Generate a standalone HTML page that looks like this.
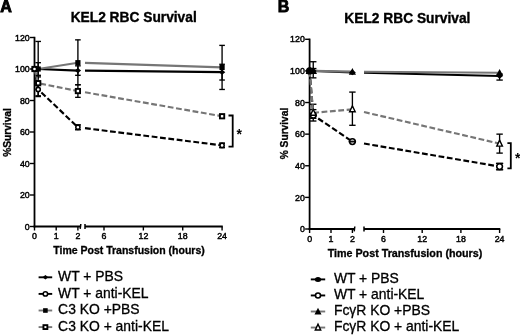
<!DOCTYPE html>
<html><head><meta charset="utf-8"><title>KEL2 RBC Survival</title>
<style>html,body{margin:0;padding:0;background:#fff}svg{display:block}</style></head>
<body>
<svg width="520" height="336" viewBox="0 0 520 336" font-family="'Liberation Sans', sans-serif" fill="#000">
<rect width="520" height="336" fill="#fff"/>
<text x="0.3" y="11.6" font-size="16" font-weight="bold" text-anchor="start" stroke="#000" stroke-width="0.9">A</text>
<text x="133.7" y="22.3" font-size="13.75" font-weight="bold" text-anchor="middle" stroke="#000" stroke-width="0.35">KEL2 RBC Survival</text>
<text transform="translate(10.6,132.5) rotate(-90)" font-size="10.2" font-weight="bold" text-anchor="middle" stroke="#000" stroke-width="0.3">%Survival</text>
<text x="129" y="253.9" font-size="10.5" font-weight="bold" text-anchor="middle" stroke="#000" stroke-width="0.3">Time Post Transfusion (hours)</text>
<line x1="34.50" y1="36.80" x2="34.50" y2="227.40" stroke="#000" stroke-width="1.8"/>
<line x1="30.00" y1="226.50" x2="34.50" y2="226.50" stroke="#000" stroke-width="1.4"/>
<text x="29.7" y="229.6" font-size="8.8" text-anchor="end" stroke="#000" stroke-width="0.45">0</text>
<line x1="30.00" y1="195.00" x2="34.50" y2="195.00" stroke="#000" stroke-width="1.4"/>
<text x="29.7" y="198.1" font-size="8.8" text-anchor="end" stroke="#000" stroke-width="0.45">20</text>
<line x1="30.00" y1="163.50" x2="34.50" y2="163.50" stroke="#000" stroke-width="1.4"/>
<text x="29.7" y="166.6" font-size="8.8" text-anchor="end" stroke="#000" stroke-width="0.45">40</text>
<line x1="30.00" y1="132.00" x2="34.50" y2="132.00" stroke="#000" stroke-width="1.4"/>
<text x="29.7" y="135.1" font-size="8.8" text-anchor="end" stroke="#000" stroke-width="0.45">60</text>
<line x1="30.00" y1="100.50" x2="34.50" y2="100.50" stroke="#000" stroke-width="1.4"/>
<text x="29.7" y="103.6" font-size="8.8" text-anchor="end" stroke="#000" stroke-width="0.45">80</text>
<line x1="30.00" y1="69.00" x2="34.50" y2="69.00" stroke="#000" stroke-width="1.4"/>
<text x="29.7" y="72.1" font-size="8.8" text-anchor="end" stroke="#000" stroke-width="0.45">100</text>
<line x1="30.00" y1="37.50" x2="34.50" y2="37.50" stroke="#000" stroke-width="1.4"/>
<text x="29.7" y="40.6" font-size="8.8" text-anchor="end" stroke="#000" stroke-width="0.45">120</text>
<line x1="33.60" y1="226.50" x2="80.50" y2="226.50" stroke="#000" stroke-width="1.8"/>
<line x1="85.00" y1="226.50" x2="222.78" y2="226.50" stroke="#000" stroke-width="1.8"/>
<line x1="80.20" y1="228.90" x2="80.80" y2="224.00" stroke="#000" stroke-width="1.5"/>
<line x1="85.00" y1="228.90" x2="85.00" y2="224.00" stroke="#000" stroke-width="1.5"/>
<line x1="34.50" y1="226.50" x2="34.50" y2="230.50" stroke="#000" stroke-width="1.4"/>
<text x="34.5" y="239.2" font-size="8.8" text-anchor="middle" stroke="#000" stroke-width="0.45">0</text>
<line x1="56.20" y1="226.50" x2="56.20" y2="230.50" stroke="#000" stroke-width="1.4"/>
<text x="56.2" y="239.2" font-size="8.8" text-anchor="middle" stroke="#000" stroke-width="0.45">1</text>
<line x1="77.90" y1="226.50" x2="77.90" y2="230.50" stroke="#000" stroke-width="1.4"/>
<text x="77.9" y="239.2" font-size="8.8" text-anchor="middle" stroke="#000" stroke-width="0.45">2</text>
<line x1="104.00" y1="226.50" x2="104.00" y2="230.50" stroke="#000" stroke-width="1.4"/>
<text x="104.0" y="239.2" font-size="8.8" text-anchor="middle" stroke="#000" stroke-width="0.45">6</text>
<line x1="143.36" y1="226.50" x2="143.36" y2="230.50" stroke="#000" stroke-width="1.4"/>
<text x="143.4" y="239.2" font-size="8.8" text-anchor="middle" stroke="#000" stroke-width="0.45">12</text>
<line x1="182.72" y1="226.50" x2="182.72" y2="230.50" stroke="#000" stroke-width="1.4"/>
<text x="182.7" y="239.2" font-size="8.8" text-anchor="middle" stroke="#000" stroke-width="0.45">18</text>
<line x1="222.08" y1="226.50" x2="222.08" y2="230.50" stroke="#000" stroke-width="1.4"/>
<text x="222.1" y="239.2" font-size="8.8" text-anchor="middle" stroke="#000" stroke-width="0.45">24</text>
<line x1="38.19" y1="41.44" x2="38.19" y2="96.56" stroke="#000" stroke-width="1.35"/>
<line x1="35.39" y1="41.44" x2="40.99" y2="41.44" stroke="#000" stroke-width="1.35"/>
<line x1="35.39" y1="96.56" x2="40.99" y2="96.56" stroke="#000" stroke-width="1.35"/>
<line x1="77.90" y1="39.86" x2="77.90" y2="84.75" stroke="#000" stroke-width="1.35"/>
<line x1="75.10" y1="39.86" x2="80.70" y2="39.86" stroke="#000" stroke-width="1.35"/>
<line x1="75.10" y1="84.75" x2="80.70" y2="84.75" stroke="#000" stroke-width="1.35"/>
<line x1="222.08" y1="45.38" x2="222.08" y2="89.47" stroke="#000" stroke-width="1.35"/>
<line x1="219.28" y1="45.38" x2="224.88" y2="45.38" stroke="#000" stroke-width="1.35"/>
<line x1="219.28" y1="89.47" x2="224.88" y2="89.47" stroke="#000" stroke-width="1.35"/>
<line x1="38.19" y1="62.70" x2="38.19" y2="75.30" stroke="#000" stroke-width="1.35"/>
<line x1="35.39" y1="62.70" x2="40.99" y2="62.70" stroke="#000" stroke-width="1.35"/>
<line x1="35.39" y1="75.30" x2="40.99" y2="75.30" stroke="#000" stroke-width="1.35"/>
<line x1="77.90" y1="65.85" x2="77.90" y2="75.30" stroke="#000" stroke-width="1.35"/>
<line x1="75.10" y1="65.85" x2="80.70" y2="65.85" stroke="#000" stroke-width="1.35"/>
<line x1="75.10" y1="75.30" x2="80.70" y2="75.30" stroke="#000" stroke-width="1.35"/>
<line x1="222.08" y1="64.28" x2="222.08" y2="80.03" stroke="#000" stroke-width="1.35"/>
<line x1="219.28" y1="64.28" x2="224.88" y2="64.28" stroke="#000" stroke-width="1.35"/>
<line x1="219.28" y1="80.03" x2="224.88" y2="80.03" stroke="#000" stroke-width="1.35"/>
<line x1="38.19" y1="76.88" x2="38.19" y2="89.47" stroke="#000" stroke-width="1.35"/>
<line x1="35.39" y1="76.88" x2="40.99" y2="76.88" stroke="#000" stroke-width="1.35"/>
<line x1="35.39" y1="89.47" x2="40.99" y2="89.47" stroke="#000" stroke-width="1.35"/>
<line x1="77.90" y1="84.75" x2="77.90" y2="97.35" stroke="#000" stroke-width="1.35"/>
<line x1="75.10" y1="84.75" x2="80.70" y2="84.75" stroke="#000" stroke-width="1.35"/>
<line x1="75.10" y1="97.35" x2="80.70" y2="97.35" stroke="#000" stroke-width="1.35"/>
<line x1="222.08" y1="114.67" x2="222.08" y2="117.83" stroke="#000" stroke-width="1.35"/>
<line x1="219.28" y1="114.67" x2="224.88" y2="114.67" stroke="#000" stroke-width="1.35"/>
<line x1="219.28" y1="117.83" x2="224.88" y2="117.83" stroke="#000" stroke-width="1.35"/>
<line x1="38.19" y1="83.18" x2="38.19" y2="95.78" stroke="#000" stroke-width="1.35"/>
<line x1="35.39" y1="83.18" x2="40.99" y2="83.18" stroke="#000" stroke-width="1.35"/>
<line x1="35.39" y1="95.78" x2="40.99" y2="95.78" stroke="#000" stroke-width="1.35"/>
<line x1="77.90" y1="124.91" x2="77.90" y2="129.64" stroke="#000" stroke-width="1.35"/>
<line x1="75.10" y1="124.91" x2="80.70" y2="124.91" stroke="#000" stroke-width="1.35"/>
<line x1="75.10" y1="129.64" x2="80.70" y2="129.64" stroke="#000" stroke-width="1.35"/>
<line x1="222.08" y1="143.18" x2="222.08" y2="147.59" stroke="#000" stroke-width="1.35"/>
<line x1="219.28" y1="143.18" x2="224.88" y2="143.18" stroke="#000" stroke-width="1.35"/>
<line x1="219.28" y1="147.59" x2="224.88" y2="147.59" stroke="#000" stroke-width="1.35"/>
<path d="M34.50 69.00 L38.19 69.00 L77.90 70.58" fill="none" stroke="#000" stroke-width="2.15"/>
<path d="M85.00 70.65 L222.08 72.15" fill="none" stroke="#000" stroke-width="2.15"/>
<path d="M34.50 69.00 L38.19 89.47 L77.90 127.28" fill="none" stroke="#000" stroke-width="2.15" stroke-dasharray="5.8 2.6"/>
<path d="M85.00 128.17 L222.08 145.39" fill="none" stroke="#000" stroke-width="2.15" stroke-dasharray="5.8 2.6"/>
<path d="M34.50 69.00 L38.19 69.00 L77.90 62.70" fill="none" stroke="#767676" stroke-width="2.15"/>
<path d="M85.00 62.93 L222.08 67.43" fill="none" stroke="#767676" stroke-width="2.15"/>
<path d="M34.50 69.00 L38.19 83.18 L77.90 91.05" fill="none" stroke="#767676" stroke-width="2.15" stroke-dasharray="5.8 2.6"/>
<path d="M85.00 92.29 L222.08 116.25" fill="none" stroke="#767676" stroke-width="2.15" stroke-dasharray="5.8 2.6"/>
<path d="M31.30 69.00 L34.50 66.40 L37.70 69.00 L34.50 71.60Z" fill="#000"/>
<path d="M34.99 69.00 L38.19 66.40 L41.39 69.00 L38.19 71.60Z" fill="#000"/>
<path d="M74.70 70.58 L77.90 67.98 L81.10 70.58 L77.90 73.18Z" fill="#000"/>
<path d="M218.88 72.15 L222.08 69.55 L225.28 72.15 L222.08 74.75Z" fill="#000"/>
<rect x="31.90" y="66.40" width="5.20" height="5.20" fill="#000"/>
<rect x="35.59" y="66.40" width="5.20" height="5.20" fill="#000"/>
<rect x="75.30" y="60.10" width="5.20" height="5.20" fill="#000"/>
<rect x="219.48" y="64.83" width="5.20" height="5.20" fill="#000"/>
<rect x="32.35" y="66.85" width="4.30" height="4.30" fill="#fff" stroke="#000" stroke-width="1.9"/>
<rect x="36.04" y="81.03" width="4.30" height="4.30" fill="#fff" stroke="#000" stroke-width="1.9"/>
<rect x="75.75" y="88.90" width="4.30" height="4.30" fill="#fff" stroke="#000" stroke-width="1.9"/>
<rect x="219.93" y="114.10" width="4.30" height="4.30" fill="#fff" stroke="#000" stroke-width="1.9"/>
<circle cx="34.50" cy="69.00" r="2.10" fill="#fff" stroke="#000" stroke-width="1.55"/>
<circle cx="38.19" cy="89.47" r="2.10" fill="#fff" stroke="#000" stroke-width="1.55"/>
<circle cx="77.90" cy="127.28" r="2.10" fill="#fff" stroke="#000" stroke-width="1.55"/>
<line x1="75.00" y1="124.91" x2="80.80" y2="124.91" stroke="#000" stroke-width="1.2"/>
<line x1="75.00" y1="129.64" x2="80.80" y2="129.64" stroke="#000" stroke-width="1.2"/>
<circle cx="222.08" cy="145.39" r="2.10" fill="#fff" stroke="#000" stroke-width="1.55"/>
<line x1="219.18" y1="143.18" x2="224.98" y2="143.18" stroke="#000" stroke-width="1.2"/>
<line x1="219.18" y1="147.59" x2="224.98" y2="147.59" stroke="#000" stroke-width="1.2"/>
<path d="M228.5 115.5 H232.7 V146.6 H228.5" fill="none" stroke="#000" stroke-width="1.8"/>
<text x="239.3" y="138.7" font-size="14" font-weight="bold" text-anchor="middle">*</text>
<line x1="38.60" y1="277.30" x2="52.20" y2="277.30" stroke="#000" stroke-width="1.9"/>
<path d="M42.50 277.30 L45.40 275.00 L48.30 277.30 L45.40 279.60Z" fill="#000"/>
<text x="58.1" y="280.9" font-size="13.9" text-anchor="start" stroke="#000" stroke-width="0.3">WT + PBS</text>
<line x1="38.60" y1="293.90" x2="52.20" y2="293.90" stroke="#000" stroke-width="1.9"/>
<circle cx="45.40" cy="293.90" r="2.20" fill="#fff" stroke="#000" stroke-width="1.55"/>
<text x="58.1" y="297.5" font-size="13.9" text-anchor="start" stroke="#000" stroke-width="0.3">WT + anti-KEL</text>
<line x1="38.60" y1="310.50" x2="52.20" y2="310.50" stroke="#767676" stroke-width="1.9"/>
<rect x="43.10" y="308.20" width="4.60" height="4.60" fill="#000"/>
<text x="58.1" y="314.1" font-size="13.9" text-anchor="start" stroke="#000" stroke-width="0.3">C3 KO +PBS</text>
<line x1="38.60" y1="327.10" x2="52.20" y2="327.10" stroke="#767676" stroke-width="1.9"/>
<rect x="43.45" y="325.15" width="3.90" height="3.90" fill="#fff" stroke="#000" stroke-width="1.9"/>
<text x="58.1" y="330.7" font-size="13.9" text-anchor="start" stroke="#000" stroke-width="0.3">C3 KO + anti-KEL</text>
<text x="277.8" y="11.6" font-size="16" font-weight="bold" text-anchor="start" stroke="#000" stroke-width="0.8">B</text>
<text x="407.4" y="23.0" font-size="13.75" font-weight="bold" text-anchor="middle" stroke="#000" stroke-width="0.35">KEL2 RBC Survival</text>
<text transform="translate(287.5,133.5) rotate(-90)" font-size="10.2" font-weight="bold" text-anchor="middle" stroke="#000" stroke-width="0.3">% Survival</text>
<text x="405" y="256.6" font-size="10.73" font-weight="bold" text-anchor="middle" stroke="#000" stroke-width="0.3">Time Post Transfusion (hours)</text>
<line x1="309.60" y1="38.58" x2="309.60" y2="229.90" stroke="#000" stroke-width="1.8"/>
<line x1="305.10" y1="229.00" x2="309.60" y2="229.00" stroke="#000" stroke-width="1.4"/>
<text x="304.8" y="232.1" font-size="8.8" text-anchor="end" stroke="#000" stroke-width="0.45">0</text>
<line x1="305.10" y1="197.38" x2="309.60" y2="197.38" stroke="#000" stroke-width="1.4"/>
<text x="304.8" y="200.5" font-size="8.8" text-anchor="end" stroke="#000" stroke-width="0.45">20</text>
<line x1="305.10" y1="165.76" x2="309.60" y2="165.76" stroke="#000" stroke-width="1.4"/>
<text x="304.8" y="168.9" font-size="8.8" text-anchor="end" stroke="#000" stroke-width="0.45">40</text>
<line x1="305.10" y1="134.14" x2="309.60" y2="134.14" stroke="#000" stroke-width="1.4"/>
<text x="304.8" y="137.2" font-size="8.8" text-anchor="end" stroke="#000" stroke-width="0.45">60</text>
<line x1="305.10" y1="102.52" x2="309.60" y2="102.52" stroke="#000" stroke-width="1.4"/>
<text x="304.8" y="105.6" font-size="8.8" text-anchor="end" stroke="#000" stroke-width="0.45">80</text>
<line x1="305.10" y1="70.90" x2="309.60" y2="70.90" stroke="#000" stroke-width="1.4"/>
<text x="304.8" y="74.0" font-size="8.8" text-anchor="end" stroke="#000" stroke-width="0.45">100</text>
<line x1="305.10" y1="39.28" x2="309.60" y2="39.28" stroke="#000" stroke-width="1.4"/>
<text x="304.8" y="42.4" font-size="8.8" text-anchor="end" stroke="#000" stroke-width="0.45">120</text>
<line x1="308.70" y1="229.00" x2="354.50" y2="229.00" stroke="#000" stroke-width="1.8"/>
<line x1="364.00" y1="229.00" x2="500.30" y2="229.00" stroke="#000" stroke-width="1.8"/>
<line x1="354.20" y1="231.40" x2="354.80" y2="226.50" stroke="#000" stroke-width="1.5"/>
<line x1="364.00" y1="231.40" x2="364.00" y2="226.50" stroke="#000" stroke-width="1.5"/>
<line x1="309.60" y1="229.00" x2="309.60" y2="233.00" stroke="#000" stroke-width="1.4"/>
<text x="309.6" y="241.7" font-size="8.8" text-anchor="middle" stroke="#000" stroke-width="0.45">0</text>
<line x1="331.00" y1="229.00" x2="331.00" y2="233.00" stroke="#000" stroke-width="1.4"/>
<text x="331.0" y="241.7" font-size="8.8" text-anchor="middle" stroke="#000" stroke-width="0.45">1</text>
<line x1="352.40" y1="229.00" x2="352.40" y2="233.00" stroke="#000" stroke-width="1.4"/>
<text x="352.4" y="241.7" font-size="8.8" text-anchor="middle" stroke="#000" stroke-width="0.45">2</text>
<line x1="383.50" y1="229.00" x2="383.50" y2="233.00" stroke="#000" stroke-width="1.4"/>
<text x="383.5" y="241.7" font-size="8.8" text-anchor="middle" stroke="#000" stroke-width="0.45">6</text>
<line x1="422.20" y1="229.00" x2="422.20" y2="233.00" stroke="#000" stroke-width="1.4"/>
<text x="422.2" y="241.7" font-size="8.8" text-anchor="middle" stroke="#000" stroke-width="0.45">12</text>
<line x1="460.90" y1="229.00" x2="460.90" y2="233.00" stroke="#000" stroke-width="1.4"/>
<text x="460.9" y="241.7" font-size="8.8" text-anchor="middle" stroke="#000" stroke-width="0.45">18</text>
<line x1="499.60" y1="229.00" x2="499.60" y2="233.00" stroke="#000" stroke-width="1.4"/>
<text x="499.6" y="241.7" font-size="8.8" text-anchor="middle" stroke="#000" stroke-width="0.45">24</text>
<line x1="313.24" y1="61.73" x2="313.24" y2="77.86" stroke="#000" stroke-width="1.35"/>
<line x1="310.04" y1="61.73" x2="316.44" y2="61.73" stroke="#000" stroke-width="1.35"/>
<line x1="310.04" y1="77.86" x2="316.44" y2="77.86" stroke="#000" stroke-width="1.35"/>
<line x1="313.24" y1="68.53" x2="313.24" y2="73.27" stroke="#000" stroke-width="1.35"/>
<line x1="310.04" y1="68.53" x2="316.44" y2="68.53" stroke="#000" stroke-width="1.35"/>
<line x1="310.04" y1="73.27" x2="316.44" y2="73.27" stroke="#000" stroke-width="1.35"/>
<line x1="499.60" y1="74.06" x2="499.60" y2="80.07" stroke="#000" stroke-width="1.35"/>
<line x1="496.40" y1="74.06" x2="502.80" y2="74.06" stroke="#000" stroke-width="1.35"/>
<line x1="496.40" y1="80.07" x2="502.80" y2="80.07" stroke="#000" stroke-width="1.35"/>
<line x1="313.24" y1="104.26" x2="313.24" y2="118.33" stroke="#000" stroke-width="1.35"/>
<line x1="310.04" y1="104.26" x2="316.44" y2="104.26" stroke="#000" stroke-width="1.35"/>
<line x1="310.04" y1="118.33" x2="316.44" y2="118.33" stroke="#000" stroke-width="1.35"/>
<line x1="352.40" y1="92.09" x2="352.40" y2="125.29" stroke="#000" stroke-width="1.35"/>
<line x1="349.20" y1="92.09" x2="355.60" y2="92.09" stroke="#000" stroke-width="1.35"/>
<line x1="349.20" y1="125.29" x2="355.60" y2="125.29" stroke="#000" stroke-width="1.35"/>
<line x1="499.60" y1="134.14" x2="499.60" y2="153.11" stroke="#000" stroke-width="1.35"/>
<line x1="496.40" y1="134.14" x2="502.80" y2="134.14" stroke="#000" stroke-width="1.35"/>
<line x1="496.40" y1="153.11" x2="502.80" y2="153.11" stroke="#000" stroke-width="1.35"/>
<line x1="313.24" y1="109.63" x2="313.24" y2="121.02" stroke="#000" stroke-width="1.35"/>
<line x1="310.04" y1="109.63" x2="316.44" y2="109.63" stroke="#000" stroke-width="1.35"/>
<line x1="310.04" y1="121.02" x2="316.44" y2="121.02" stroke="#000" stroke-width="1.35"/>
<line x1="352.40" y1="141.25" x2="352.40" y2="141.89" stroke="#000" stroke-width="1.35"/>
<line x1="349.20" y1="141.25" x2="355.60" y2="141.25" stroke="#000" stroke-width="1.35"/>
<line x1="349.20" y1="141.89" x2="355.60" y2="141.89" stroke="#000" stroke-width="1.35"/>
<line x1="499.60" y1="163.39" x2="499.60" y2="169.71" stroke="#000" stroke-width="1.35"/>
<line x1="496.40" y1="163.39" x2="502.80" y2="163.39" stroke="#000" stroke-width="1.35"/>
<line x1="496.40" y1="169.71" x2="502.80" y2="169.71" stroke="#000" stroke-width="1.35"/>
<path d="M309.60 70.90 L313.24 70.90 L352.40 72.48" fill="none" stroke="#000" stroke-width="2.15"/>
<path d="M364.00 72.76 L499.60 75.96" fill="none" stroke="#000" stroke-width="2.15"/>
<path d="M309.60 70.90 L313.24 115.17 L352.40 141.57" fill="none" stroke="#000" stroke-width="2.15" stroke-dasharray="5.8 2.6"/>
<path d="M364.00 143.54 L499.60 166.55" fill="none" stroke="#000" stroke-width="2.15" stroke-dasharray="5.8 2.6"/>
<path d="M309.60 70.90 L313.24 70.90 L352.40 71.69" fill="none" stroke="#767676" stroke-width="2.15"/>
<path d="M364.00 71.78 L499.60 72.80" fill="none" stroke="#767676" stroke-width="2.15"/>
<path d="M309.60 70.90 L313.24 112.80 L352.40 109.32" fill="none" stroke="#767676" stroke-width="2.15" stroke-dasharray="5.8 2.6"/>
<path d="M364.00 112.02 L499.60 143.63" fill="none" stroke="#767676" stroke-width="2.15" stroke-dasharray="5.8 2.6"/>
<circle cx="309.60" cy="70.90" r="2.85" fill="#fff" stroke="#000" stroke-width="1.55"/>
<circle cx="313.24" cy="115.17" r="2.85" fill="#fff" stroke="#000" stroke-width="1.55"/>
<circle cx="352.40" cy="141.57" r="2.85" fill="#fff" stroke="#000" stroke-width="1.55"/>
<line x1="348.75" y1="141.25" x2="356.05" y2="141.25" stroke="#000" stroke-width="1.2"/>
<line x1="348.75" y1="141.89" x2="356.05" y2="141.89" stroke="#000" stroke-width="1.2"/>
<circle cx="499.60" cy="166.55" r="2.85" fill="#fff" stroke="#000" stroke-width="1.55"/>
<line x1="495.95" y1="163.39" x2="503.25" y2="163.39" stroke="#000" stroke-width="1.2"/>
<line x1="495.95" y1="169.71" x2="503.25" y2="169.71" stroke="#000" stroke-width="1.2"/>
<path d="M306.80 73.40 L309.60 67.50 L312.40 73.40Z" fill="#fff" stroke="#000" stroke-width="1.4"/>
<path d="M310.44 115.30 L313.24 109.40 L316.04 115.30Z" fill="#fff" stroke="#000" stroke-width="1.4"/>
<path d="M349.60 111.82 L352.40 105.92 L355.20 111.82Z" fill="#fff" stroke="#000" stroke-width="1.4"/>
<path d="M496.80 146.13 L499.60 140.23 L502.40 146.13Z" fill="#fff" stroke="#000" stroke-width="1.4"/>
<path d="M306.20 70.90 L309.60 68.10 L313.00 70.90 L309.60 73.70Z" fill="#000"/>
<path d="M309.84 70.90 L313.24 68.10 L316.64 70.90 L313.24 73.70Z" fill="#000"/>
<path d="M349.00 72.48 L352.40 69.68 L355.80 72.48 L352.40 75.28Z" fill="#000"/>
<path d="M496.20 75.96 L499.60 73.16 L503.00 75.96 L499.60 78.76Z" fill="#000"/>
<path d="M306.00 73.90 L309.60 67.10 L313.20 73.90Z" fill="#000"/>
<path d="M309.64 73.90 L313.24 67.10 L316.84 73.90Z" fill="#000"/>
<path d="M348.80 74.69 L352.40 67.89 L356.00 74.69Z" fill="#000"/>
<path d="M496.00 75.80 L499.60 69.00 L503.20 75.80Z" fill="#000"/>
<path d="M507.4 143.2 H510.8 V168.3 H507.4" fill="none" stroke="#000" stroke-width="1.8"/>
<text x="517.8" y="162.6" font-size="14" font-weight="bold" text-anchor="middle">*</text>
<line x1="310.80" y1="279.40" x2="325.20" y2="279.40" stroke="#000" stroke-width="1.9"/>
<ellipse cx="318.00" cy="279.40" rx="3.1" ry="2.5" fill="#000"/>
<text x="333.9" y="283.0" font-size="13.9" text-anchor="start" stroke="#000" stroke-width="0.3">WT + PBS</text>
<line x1="310.80" y1="295.45" x2="325.20" y2="295.45" stroke="#000" stroke-width="1.9"/>
<circle cx="318.00" cy="295.45" r="2.50" fill="#fff" stroke="#000" stroke-width="1.55"/>
<text x="333.9" y="299.1" font-size="13.9" text-anchor="start" stroke="#000" stroke-width="0.3">WT + anti-KEL</text>
<line x1="310.80" y1="311.50" x2="325.20" y2="311.50" stroke="#767676" stroke-width="1.9"/>
<path d="M314.50 314.40 L318.00 307.80 L321.50 314.40Z" fill="#000"/>
<text x="333.9" y="315.1" font-size="13.9" text-anchor="start" stroke="#000" stroke-width="0.3">FcγR KO +PBS</text>
<line x1="310.80" y1="327.55" x2="325.20" y2="327.55" stroke="#767676" stroke-width="1.9"/>
<path d="M315.30 329.95 L318.00 324.25 L320.70 329.95Z" fill="#fff" stroke="#000" stroke-width="1.4"/>
<text x="333.9" y="331.1" font-size="13.9" text-anchor="start" stroke="#000" stroke-width="0.3">FcγR KO + anti-KEL</text>
</svg>
</body></html>
